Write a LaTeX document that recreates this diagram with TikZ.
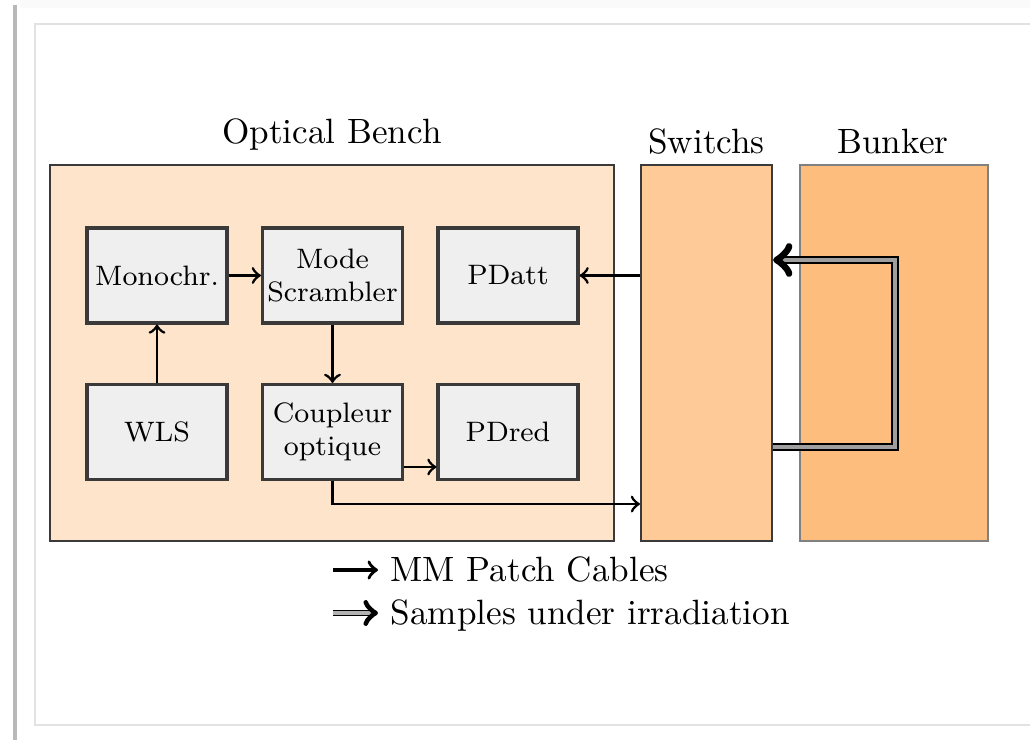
\documentclass[tikz,border=0pt]{standalone}
\usepackage{xcolor}
\usepackage{tikz}
\usetikzlibrary{calc}
\definecolor{benchFill}{HTML}{FEE4CA}
\definecolor{switchFill}{HTML}{FDCA98}
\definecolor{bunkerFill}{HTML}{FDBD7D}
\definecolor{boxFill}{HTML}{EFEFEF}
\definecolor{edge}{HTML}{3A3A3A}
\definecolor{frame}{HTML}{E2E2E2}
\tikzset{
  zone/.style={draw=edge, line width=0.6pt, minimum height=3.76cm, inner sep=0pt},
  unit/.style={draw=edge, fill=boxFill, line width=0.9pt, minimum width=1.40cm,
    minimum height=0.95cm, align=center, font=\footnotesize, inner sep=1pt},
  zoneLabel/.style={font=\normalsize, inner sep=0pt},
  cable/.style={draw=black, line width=0.8pt, ->, >=to},
  sample/.style={draw=black, line width=0.6pt, double=gray!75, double distance=1.1pt, ->, >=to},
  legendSample/.style={draw=black, line width=0.35pt, double=gray!60, double distance=0.9pt, ->, >=to},
  legendText/.style={font=\normalsize, inner sep=0pt, anchor=base west}
}
\begin{document}
\begin{tikzpicture}
  \useasboundingbox (0,0) rectangle (10.30,-7.40);

  \fill[gray!4] (0.20,0) rectangle (10.30,-0.08);
  \draw[gray!55, line width=0.9pt] (0.15,-0.05) -- (0.15,-7.40);
  \draw[frame, line width=0.6pt] (10.30,-0.24) -- (0.35,-0.24) -- (0.35,-7.25) -- (10.30,-7.25);

  \node[zone, fill=benchFill, minimum width=5.64cm] (bench) at (3.32,-3.53) {};
  \node[zone, fill=switchFill, minimum width=1.31cm] (sw) at (7.065,-3.53) {};
  \node[zone, fill=bunkerFill, draw=gray, minimum width=1.88cm] (bunker) at (8.94,-3.53) {};

  \node[zoneLabel] (benchLabel) at (3.32,-1.35) {Optical Bench};
  \node[zoneLabel] (swLabel) at (7.065,-1.42) {Switchs};
  \node[zoneLabel] (bunkerLabel) at (8.93,-1.42) {Bunker};

  \node[unit] (mono) at (1.57,-2.755) {Monochr.};
  \node[unit] (mode) at (3.325,-2.755) {Mode\\Scrambler};
  \node[unit] (att) at (5.08,-2.755) {PDatt};
  \node[unit] (wls) at (1.57,-4.32) {WLS};
  \node[unit] (coup) at (3.325,-4.32) {Coupleur\\optique};
  \node[unit] (red) at (5.08,-4.32) {PDred};

  \draw[cable] (mono) -- (mode);
  \draw[cable] (wls) -- (mono);
  \draw[cable] (mode) -- (coup);
  \draw[cable] ([yshift=-3.5mm]coup.east) -- ([yshift=-3.5mm]red.west);
  \draw[cable] (coup.south) |- ([yshift=3.8mm]sw.south west);
  \draw[cable] (att.east -| sw.west) -- (att.east);

  \coordinate (loopLow) at (8.95,-4.47);
  \coordinate (loopHigh) at (8.95,-2.60);
  \draw[sample] (sw.east |- loopLow) -- (loopLow) -- (loopHigh) -- (sw.east |- loopHigh);

  \node[legendText] (legCable) at (3.90,-5.82) {MM Patch Cables};
  \node[legendText] (legSample) at (3.90,-6.25) {Samples under irradiation};
  \coordinate (legCableTail) at (3.33,-5.70);
  \coordinate (legSampleTail) at (3.33,-6.13);
  \draw[cable, line width=1pt] (legCableTail) -- ([xshift=-1.2mm]legCableTail -| legCable.west);
  \draw[legendSample] (legSampleTail) -- ([xshift=-1.2mm]legSampleTail -| legSample.west);
\end{tikzpicture}
\end{document}
